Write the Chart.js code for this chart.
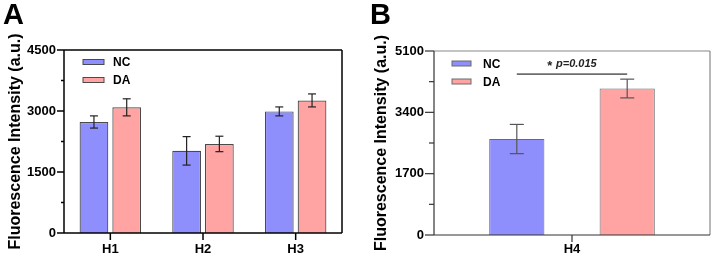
<!DOCTYPE html>
<html>
<head>
<meta charset="utf-8">
<script src="https://cdn.jsdelivr.net/npm/chart.js@4.4.0/dist/chart.umd.min.js"></script>
<style>
  body { margin: 0; background: #fff; width: 714px; height: 261px; overflow: hidden; font-family: "Liberation Sans", Arial, sans-serif; }
  .panel { position: absolute; top: 0; width: 357px; height: 261px; }
  .tag { position: absolute; top: 0; font-weight: bold; font-size: 29px; line-height: 1; color: #000; }
</style>
</head>
<body>
<div class="panel" style="left:0"><canvas id="chartA" width="357" height="261"></canvas><div class="tag" style="left:3px">A</div></div>
<div class="panel" style="left:357px"><canvas id="chartB" width="357" height="261"></canvas><div class="tag" style="left:13px">B</div></div>
<script>
// Panel A data
const categoriesA = ['H1', 'H2', 'H3'];
const ncA = [2730, 2020, 2990];
const ncErrA = [150, 350, 110];
const daA = [3090, 2190, 3260];
const daErrA = [210, 190, 160];
const tickLabelsA = [0, 1500, 3000, 4500];
const minorStepA = 750;

// Panel B data
const categoriesB = ['H4'];
const ncB = [2660];
const ncErrB = [405];
const daB = [4060];
const daErrB = [260];
const tickLabelsB = [0, 1700, 3400, 5100];
const minorStepB = 850;
const sigLevelB = 4460;
const sigLabelB = 'p=0.015';

const FONT = '"Liberation Sans", Arial, sans-serif';
const NC_FILL = '#8e8efd';
const DA_FILL = '#ffa3a3';

Chart.defaults.font.family = FONT;
Chart.defaults.color = '#000';

function line(ctx, x1, y1, x2, y2) {
  ctx.beginPath();
  ctx.moveTo(x1, y1);
  ctx.lineTo(x2, y2);
  ctx.stroke();
}

// error bars drawn from the data through the y scale
const errorBars = {
  id: 'errorBars',
  afterDatasetsDraw(chart, args, opts) {
    const ctx = chart.ctx;
    const y = chart.scales.y;
    ctx.save();
    ctx.strokeStyle = opts.color;
    ctx.lineWidth = opts.width;
    chart.data.datasets.forEach((ds, di) => {
      const errs = opts.errors[di];
      chart.getDatasetMeta(di).data.forEach((bar, i) => {
        const top = y.getPixelForValue(ds.data[i] + errs[i]);
        const bot = y.getPixelForValue(ds.data[i] - errs[i]);
        line(ctx, bar.x, top, bar.x, bot);
        line(ctx, bar.x - opts.cap, top, bar.x + opts.cap, top);
        line(ctx, bar.x - opts.cap, bot, bar.x + opts.cap, bot);
      });
    });
    ctx.restore();
  }
};

// axis box and tick marks
const frame = {
  id: 'frame',
  afterDraw(chart, args, o) {
    const ctx = chart.ctx;
    const { left, right, top, bottom } = chart.chartArea;
    const x = chart.scales.x, y = chart.scales.y;
    ctx.save();
    ctx.lineWidth = o.width;
    ctx.strokeStyle = o.frameColor;
    line(ctx, left, top, right, top);
    line(ctx, right, top, right, bottom);
    ctx.strokeStyle = o.axisColor;
    line(ctx, left, top, left, bottom);
    line(ctx, left, bottom, right, bottom);
    y.ticks.forEach(t => {
      const py = y.getPixelForValue(t.value);
      const len = t.label !== '' ? o.major : o.minor;
      line(ctx, left - len, py, left, py);
    });
    x.ticks.forEach((t, i) => {
      const px = x.getPixelForTick(i);
      line(ctx, px, bottom, px, bottom + o.xTick);
    });
    ctx.restore();
  }
};

// legend inside the plot
const boxLegend = {
  id: 'boxLegend',
  afterDraw(chart, args, o) {
    const ctx = chart.ctx;
    const { left, top } = chart.chartArea;
    ctx.save();
    chart.data.datasets.forEach((ds, i) => {
      const bx = left + o.x;
      const cy = top + o.y + i * o.gap;
      ctx.fillStyle = ds.backgroundColor;
      ctx.fillRect(bx, cy - o.h / 2, o.w, o.h);
      ctx.strokeStyle = ds.borderColor;
      ctx.lineWidth = 1;
      ctx.strokeRect(bx, cy - o.h / 2, o.w, o.h);
      ctx.fillStyle = '#000';
      ctx.font = 'bold 12px ' + FONT;
      ctx.textBaseline = 'middle';
      ctx.textAlign = 'left';
      ctx.fillText(ds.label, bx + o.w + o.textGap, cy + 1);
    });
    ctx.restore();
  }
};

// significance line between the two bars
const sigBracket = {
  id: 'sigBracket',
  afterDraw(chart, args, o) {
    if (!o.level) return;
    const ctx = chart.ctx;
    const a = chart.getDatasetMeta(0).data[0].x;
    const b = chart.getDatasetMeta(1).data[0].x;
    const py = chart.scales.y.getPixelForValue(o.level);
    ctx.save();
    ctx.strokeStyle = '#000';
    ctx.lineWidth = 1;
    line(ctx, a, py, b, py);
    ctx.fillStyle = '#222';
    ctx.textBaseline = 'middle';
    const star = '* ';
    ctx.font = 'bold 13px ' + FONT;
    const w1 = ctx.measureText(star).width;
    ctx.font = 'italic bold 11px ' + FONT;
    const w2 = ctx.measureText(o.label).width;
    const tx = (a + b) / 2 - (w1 + w2) / 2;
    ctx.textAlign = 'left';
    ctx.font = 'bold 13px ' + FONT;
    ctx.fillText(star, tx, py - 8);
    ctx.font = 'italic bold 11px ' + FONT;
    ctx.fillText(o.label, tx + w1, py - 10);
    ctx.restore();
  }
};

function makeChart(id, cfg) {
  return new Chart(document.getElementById(id), {
    type: 'bar',
    data: {
      labels: cfg.labels,
      datasets: [
        { label: 'NC', data: cfg.nc, backgroundColor: NC_FILL, borderColor: cfg.barBorder, borderWidth: cfg.barBorderWidth,
          categoryPercentage: cfg.cp, barPercentage: cfg.bp, borderSkipped: 'bottom' },
        { label: 'DA', data: cfg.da, backgroundColor: DA_FILL, borderColor: cfg.barBorder, borderWidth: cfg.barBorderWidth,
          categoryPercentage: cfg.cp, barPercentage: cfg.bp, borderSkipped: 'bottom' }
      ]
    },
    options: {
      responsive: false,
      animation: false,
      devicePixelRatio: 1,
      events: [],
      layout: { padding: cfg.padding },
      plugins: {
        legend: { display: false },
        tooltip: { enabled: false },
        errorBars: { errors: cfg.errors, color: cfg.errColor, width: 1.2, cap: cfg.cap },
        frame: cfg.frame,
        boxLegend: cfg.legend,
        sigBracket: cfg.sig || {}
      },
      scales: {
        x: {
          grid: { display: false, drawTicks: true, tickLength: 7 },
          border: { display: false },
          ticks: { font: { size: 13, weight: 'bold' }, color: '#000', padding: cfg.xPad },
          afterFit(s) { s.height = cfg.xHeight; }
        },
        y: {
          min: 0,
          max: cfg.tickLabels[cfg.tickLabels.length - 1],
          grid: { display: false, drawTicks: true, tickLength: cfg.yTick },
          border: { display: false },
          ticks: {
            stepSize: cfg.minorStep,
            autoSkip: false,
            padding: cfg.yPad,
            font: { size: 13, weight: 'bold' },
            color: '#000',
            callback: v => cfg.tickLabels.includes(v) ? String(v) : ''
          },
          title: {
            display: true,
            text: 'Fluorescence Intensity (a.u.)',
            font: { size: 16, weight: 'bold' },
            color: '#000',
            padding: { top: cfg.titlePad, bottom: 0 }
          },
          afterFit(s) { s.width = cfg.yWidth; }
        }
      }
    },
    plugins: [errorBars, frame, boxLegend, sigBracket]
  });
}

makeChart('chartA', {
  labels: categoriesA, nc: ncA, da: daA, errors: [ncErrA, daErrA],
  tickLabels: tickLabelsA, minorStep: minorStepA,
  cp: 0.707, bp: 0.877, barBorder: '#4a4a4a', barBorderWidth: 1.2,
  errColor: '#222', cap: 4,
  padding: { top: 50, right: 15, left: 0, bottom: 0 },
  xHeight: 28, yWidth: 64, yTick: 7, yPad: 1, xPad: 2, titlePad: 6,
  frame: { width: 1.5, frameColor: '#000', axisColor: '#000', major: 7, minor: 3, xTick: 7 },
  legend: { x: 19, y: 12, gap: 18, w: 21, h: 5, textGap: 9 }
});

makeChart('chartB', {
  labels: categoriesB, nc: ncB, da: daB, errors: [ncErrB, daErrB],
  tickLabels: tickLabelsB, minorStep: minorStepB,
  cp: 0.8, bp: 0.5, barBorder: '#6a6a6a', barBorderWidth: 1,
  errColor: '#555', cap: 7,
  padding: { top: 51, right: 4, left: 0, bottom: 0 },
  xHeight: 26, yWidth: 77, yTick: 9, yPad: 1, xPad: 0, titlePad: 15,
  frame: { width: 1.2, frameColor: '#888', axisColor: '#333', major: 9, minor: 5, xTick: 7 },
  legend: { x: 18, y: 12.5, gap: 18, w: 19, h: 5, textGap: 12 },
  sig: { level: sigLevelB, label: sigLabelB }
});
</script>
</body>
</html>
